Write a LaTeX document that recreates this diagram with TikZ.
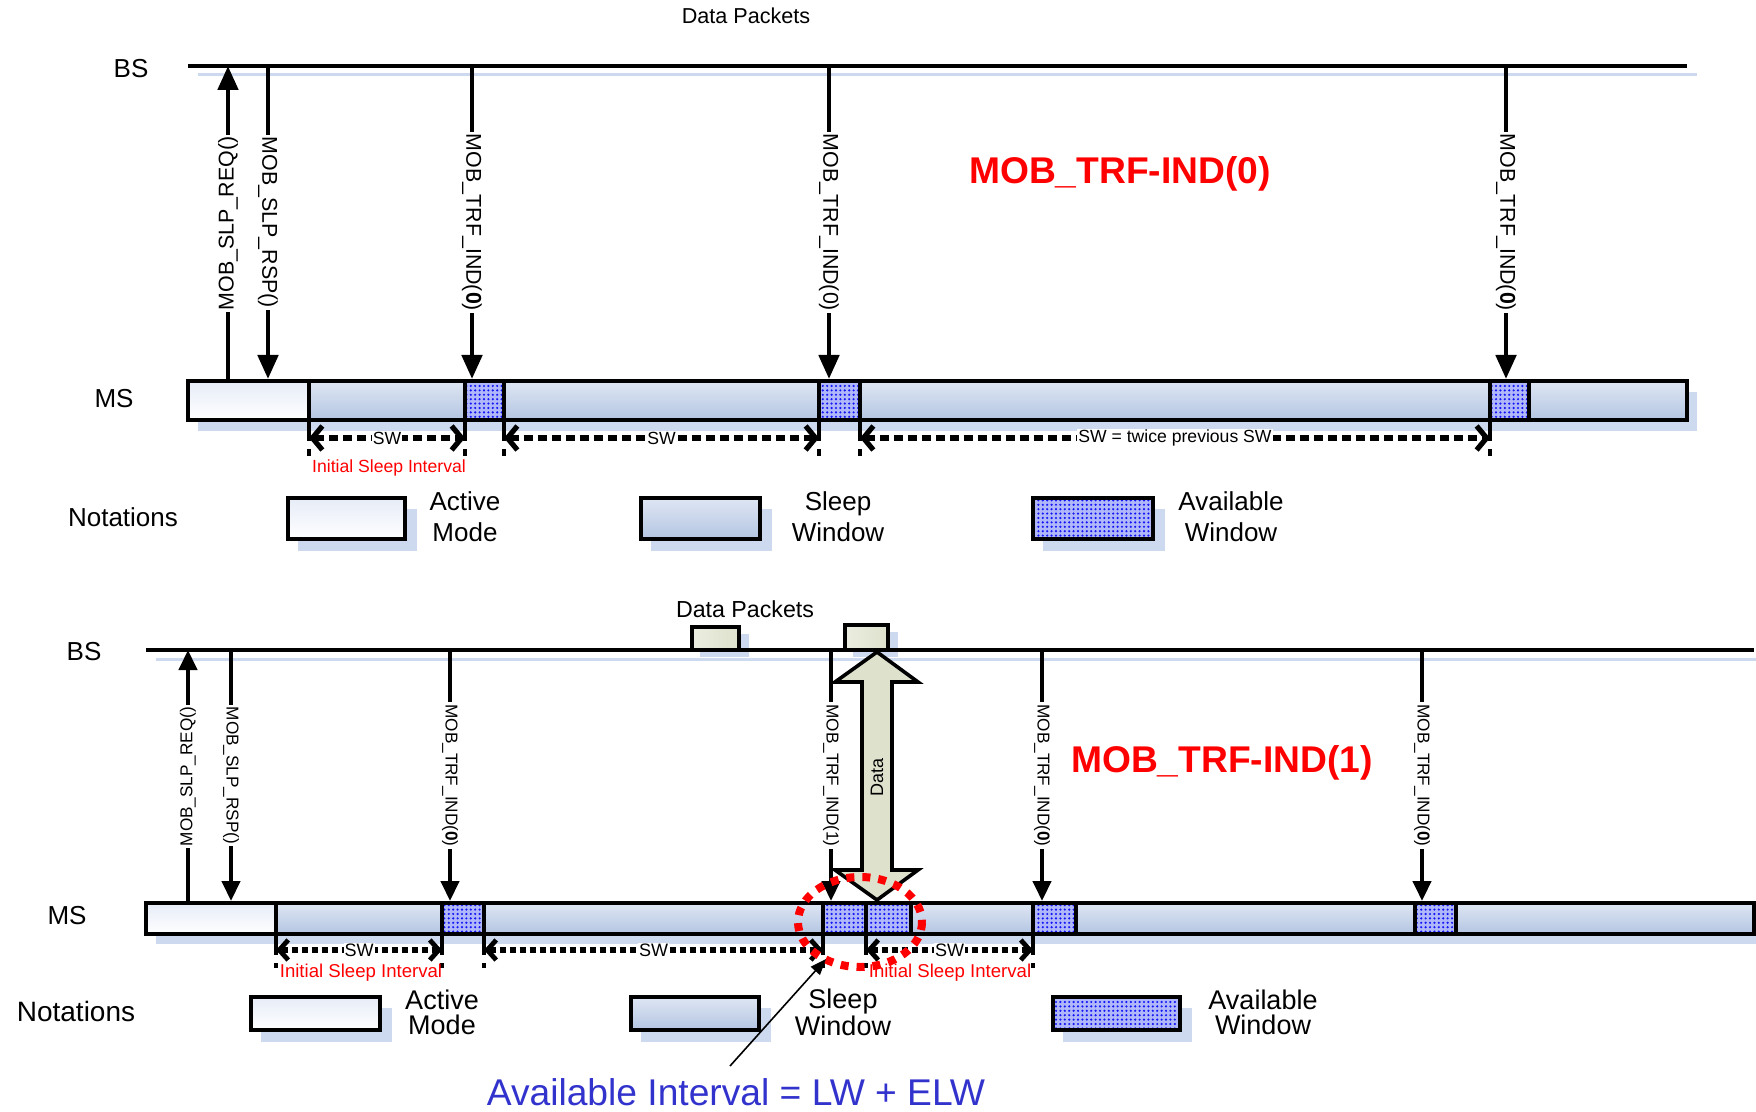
\documentclass[tikz,border=0pt]{standalone}
\usepackage{fontspec}
\setmainfont{Liberation Sans}
\usetikzlibrary{arrows.meta,patterns.meta,calc}
\definecolor{actA}{RGB}{230,236,247}
\definecolor{slpA}{RGB}{222,230,243}
\definecolor{slpB}{RGB}{180,197,226}
\definecolor{avlbg}{RGB}{176,184,250}
\definecolor{avldot}{RGB}{20,20,245}
\definecolor{shadowblue}{RGB}{204,217,238}
\definecolor{pktfill}{RGB}{222,225,204}
\definecolor{noteblue}{RGB}{50,50,205}

\begin{document}
\begin{tikzpicture}[
  x=0.5pt, y=-0.5pt,
  axisln/.style={line width=2.4pt},
  bshadow/.style={fill=shadowblue},
  actv/.style={draw, line width=2.4pt, top color=actA, bottom color=white},
  slp/.style={draw, line width=2.4pt, top color=slpA, bottom color=slpB},
  avl/.style={draw, line width=2.4pt, preaction={fill=avlbg},
    pattern={Dots[distance=2.2pt, radius=0.6pt]}, pattern color=avldot},
  pkt/.style={draw, line width=2pt, left color=pktfill!60!white, right color=pktfill},
  msg/.style={line width=2.4pt, -{Triangle[length=12pt,width=10pt]}},
  msgsm/.style={line width=2.2pt, -{Triangle[length=10pt,width=9pt]}},
  vlbl/.style={fill=white, inner sep=1pt, font=\fontsize{10.7}{12}\selectfont},
  vlblsm/.style={fill=white, inner sep=1pt, font=\fontsize{8.6}{10}\selectfont},
  tick/.style={line width=1.8pt, dash pattern=on 10pt off 4pt},
  dimtop/.style={line width=2.6pt, dash pattern=on 4.5pt off 2.5pt,
    {Straight Barb[length=5pt,width=12pt,line width=2.6pt]}-{Straight Barb[length=5pt,width=12pt,line width=2.6pt]}},
  dimbot/.style={line width=2.6pt, dash pattern=on 3pt off 2pt,
    {Straight Barb[length=4.5pt,width=10pt,line width=2.4pt]}-{Straight Barb[length=4.5pt,width=10pt,line width=2.4pt]}},
  dimlbl/.style={fill=white, inner sep=0.5pt, font=\fontsize{8.8}{10}\selectfont},
  redlbl/.style={text=red, font=\fontsize{8.8}{10}\selectfont},
  biglbl/.style={text=red, font=\fontsize{18.6}{22}\selectfont\bfseries},
  sidelbl/.style={font=\fontsize{13}{15}\selectfont},
  legtxt/.style={align=center, font=\fontsize{13}{15.5}\selectfont},
]
\useasboundingbox (0,0) rectangle (1756,1112);

% ---------------- upper diagram: MOB_TRF-IND(0) ----------------
\node[font=\fontsize{10.8}{13}\selectfont] (dpkt1) at (746,16) {Data Packets};
\node[sidelbl] (bs1) at (131,69) {BS};
\node[sidelbl] (ms1) at (114,399) {MS};
% shadows
\draw[shadowblue, line width=1.5pt] (198,75) -- (1697,75);
\fill[bshadow] (198,392) rectangle (1697,431);
% BS time line
\draw[axisln] (188,66) -- (1687,66);
% MS time line, one box per window
\foreach \a/\b/\s in {188/309/actv, 309/465/slp, 465/504/avl, 504/819/slp,
    819/860/avl, 860/1490/slp, 1490/1529/avl, 1529/1687/slp}
  \draw[\s] (\a,381) rectangle (\b,420);
% sleep request goes up
\coordinate (reqms1) at (228,381);
\coordinate (reqbs1) at (228,66);
\draw[msg] (reqms1) -- node[vlbl, rotate=90] {MOB\_SLP\_REQ()} (reqbs1);
% responses and traffic indications come down
\foreach \x/\t [count=\i] in {268/{MOB\_SLP\_RSP()}, 472/{MOB\_TRF\_IND(\textbf{0})},
    829/{MOB\_TRF\_IND(0)}, 1506/{MOB\_TRF\_IND(\textbf{0})}}
{
  \coordinate (bsa\i) at (\x,66);
  \coordinate (msa\i) at (\x,379);
  \draw[msg] (bsa\i) -- node[vlbl, rotate=-90] {\t} (msa\i);
}
% sleep window lengths
\foreach \a/\b/\t [count=\i] in {309/465/SW, 504/819/SW, 860/1490/{SW = twice previous SW}}
{
  \draw[tick] (\a,421) -- (\a,456);
  \draw[tick] (\b,421) -- (\b,456);
  \coordinate (swa\i) at (\a,438);
  \coordinate (swb\i) at (\b,438);
  \draw[dimtop] (swa\i) -- node[dimlbl] {\t} (swb\i);
}
\node[redlbl] (isi1) at (389,468) {Initial Sleep Interval};
\node[biglbl] (trf0) at (1120,174) {MOB\_TRF-IND(0)};
% notations
\node[sidelbl] (not1) at (123,517) {Notations};
\foreach \a/\b/\s in {288/405/actv, 641/760/slp, 1033/1153/avl}
{
  \fill[bshadow] (\a+10,509) rectangle (\b+12,551);
  \draw[\s, line width=1.8pt] (\a,498) rectangle (\b,539);
}
\node[legtxt] (leg1a) at (465,517) {Active\\Mode};
\node[legtxt] (leg1s) at (838,517) {Sleep\\Window};
\node[legtxt] (leg1v) at (1231,517) {Available\\Window};

% ---------------- lower diagram: MOB_TRF-IND(1) ----------------
\node[font=\fontsize{11.6}{13}\selectfont] (dpkt2) at (745,609) {Data Packets};
\node[sidelbl] (bs2) at (84,652) {BS};
\node[sidelbl] (ms2) at (67,916) {MS};
% shadows
\draw[shadowblue, line width=1.5pt] (156,659) -- (1756,659);
\fill[bshadow] (156,914) rectangle (1756,944);
\fill[bshadow] (700,634) rectangle (749,657);
\fill[bshadow] (853,632) rectangle (898,657);
% BS time line and packets
\draw[axisln] (146,650) -- (1754,650);
\draw[pkt] (692,627) rectangle (739,650);
\draw[pkt] (845,625) rectangle (888,650);
% MS time line
\foreach \a/\b/\s in {146/276/actv, 276/442/slp, 442/484/avl, 484/823/slp,
    823/866/avl, 866/911/avl, 911/1033/slp, 1033/1076/avl, 1076/1415/slp,
    1415/1456/avl, 1456/1754/slp}
  \draw[\s] (\a,903) rectangle (\b,934);
% sleep request goes up
\coordinate (reqms2) at (188,903);
\coordinate (reqbs2) at (188,650);
\draw[msgsm] (reqms2) -- node[vlblsm, rotate=90] {MOB\_SLP\_REQ()} (reqbs2);
\foreach \x/\t [count=\i] in {231/{MOB\_SLP\_RSP()}, 450/{MOB\_TRF\_IND(\textbf{0})},
    831/{MOB\_TRF\_IND(1)}, 1042/{MOB\_TRF\_IND(\textbf{0})}, 1422/{MOB\_TRF\_IND(\textbf{0})}}
{
  \coordinate (bsb\i) at (\x,650);
  \coordinate (msb\i) at (\x,901);
  \draw[msgsm] (bsb\i) -- node[vlblsm, rotate=-90] {\t} (msb\i);
}
% data transfer between BS and MS
\draw[line width=1.8pt, fill=pktfill, line join=miter]
  (877,652) -- (918,682) -- (892,682) -- (892,870) -- (918,870) -- (877,900)
  -- (835,870) -- (862,870) -- (862,682) -- (835,682) -- cycle;
\node[rotate=90, font=\fontsize{9}{10}\selectfont] (data) at (877,777) {Data};
% sleep window lengths
\foreach \a/\b [count=\i] in {276/442, 484/823, 866/1033}
{
  \draw[tick] (\a,935) -- (\a,968);
  \draw[tick] (\b,935) -- (\b,968);
  \coordinate (swc\i) at (\a,950);
  \coordinate (swd\i) at (\b,950);
  \draw[dimbot] (swc\i) -- node[dimlbl, font=\fontsize{9}{10}\selectfont] {SW} (swd\i);
}
\node[redlbl, font=\fontsize{9.3}{10}\selectfont] (isi2) at (361,973) {Initial Sleep Interval};
\node[redlbl, font=\fontsize{9.3}{10}\selectfont] (isi3) at (950,973) {Initial Sleep Interval};
\node[biglbl] (trf1) at (1222,763) {MOB\_TRF-IND(1)};
% notations
\node[sidelbl, font=\fontsize{14}{16}\selectfont] (not2) at (76,1011) {Notations};
\foreach \a/\b/\s in {251/380, 631/759, 1053/1180}
  \fill[bshadow] (\a+10,1008) rectangle (\b+12,1042);
\draw[actv, line width=1.8pt] (251,997) rectangle (380,1030);
\draw[slp, line width=1.8pt] (631,997) rectangle (759,1030);
\draw[avl, line width=1.8pt] (1053,997) rectangle (1180,1030);
\node[legtxt, font=\fontsize{13.5}{12.5}\selectfont] (leg2a) at (442,1012) {Active\\Mode};
\node[legtxt, font=\fontsize{13.5}{12.5}\selectfont] (leg2s) at (843,1012) {Sleep\\Window};
\node[legtxt, font=\fontsize{13.5}{12.5}\selectfont] (leg2v) at (1263,1012) {Available\\Window};
% available interval
\draw[red, line width=4pt, dash pattern=on 4pt off 4pt] (860,922) ellipse [x radius=62, y radius=45];
\node[text=noteblue, font=\fontsize{18.6}{22}\selectfont] (avint) at (736,1092) {Available Interval = LW + ELW};
\coordinate (avtail) at (730,1066);
\coordinate (avtip) at (826,959);
\draw[line width=0.8pt, -{Triangle[length=8pt,width=6pt]}] (avtail) -- (avtip);
\end{tikzpicture}
\end{document}
